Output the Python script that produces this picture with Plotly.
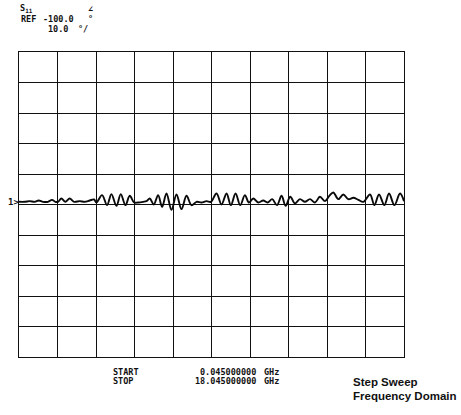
import plotly.graph_objects as go

# ---- data (S11 phase, step sweep) ----
freq_ghz = [
    0.045, 0.310, 0.544, 0.778, 0.965, 1.168, 1.402, 1.589, 1.745,
    1.870, 2.026, 2.213, 2.416, 2.619, 2.884, 3.118, 3.352, 3.555, 3.664,
    3.929, 4.163, 4.366, 4.600, 4.803, 5.021, 5.224, 5.427,
    5.614, 5.848, 6.004, 6.160, 6.347, 6.550, 6.737, 6.940,
    7.174, 7.408, 7.642, 7.876, 8.110, 8.344, 8.578, 8.812, 9.015,
    9.280, 9.514, 9.748, 9.951, 10.169, 10.388, 10.606, 10.793,
    10.996, 11.230, 11.464, 11.667, 11.885, 12.104, 12.322, 12.509,
    12.728, 12.946, 13.180, 13.414, 13.648, 13.882, 14.116, 14.350,
    14.553, 14.740, 14.974, 15.208, 15.442, 15.676, 15.910, 16.144,
    16.456, 16.659, 16.877, 17.127, 17.345, 17.595, 17.860, 18.045,
]
phase_deg = [
    -99.12, -99.12, -98.90, -99.12, -98.69, -99.12, -99.12, -98.47, -99.12,
    -99.12, -98.03, -99.12, -98.03, -99.12, -98.90, -99.12, -98.69, -98.36, -99.34,
    -96.93, -100.22, -96.61, -100.44, -96.61, -100.22, -97.15, -99.34,
    -99.34, -99.12, -98.90, -98.03, -100.00, -96.93, -100.77, -96.39,
    -101.75, -96.72, -101.53, -97.15, -100.22, -99.12, -99.34, -98.90, -99.12,
    -96.39, -100.00, -96.39, -100.22, -96.39, -100.22, -96.93, -99.34,
    -98.03, -99.34, -98.69, -99.34, -98.25, -100.22, -97.15, -100.44,
    -97.48, -99.67, -98.25, -99.12, -98.25, -99.34, -97.48, -98.90,
    -97.15, -96.06, -98.25, -96.72, -98.25, -97.81, -98.47, -99.12,
    -96.72, -100.22, -96.72, -100.22, -96.39, -100.22, -96.39, -98.90,
]

start_ghz = 0.045
stop_ghz = 18.045
ref_deg = -100.0
scale_deg = 10.0
n_div = 10

# ---- layout geometry (pixels) ----
W, H = 461, 415
ML, MR, MT, MB = 19, 57, 52, 58
PW, PH = W - ML - MR, H - MT - MB


def px(x):
    return (x - ML) / PW


def py(y):
    return 1 - (y - MT) / PH


fig = go.Figure()
fig.add_trace(go.Scatter(
    x=freq_ghz, y=phase_deg, mode="lines",
    line=dict(color="#0a0a0a", width=1.9, shape="spline", smoothing=1.0),
    hoverinfo="skip", showlegend=False,
))

ymin = ref_deg - scale_deg * n_div / 2
ymax = ref_deg + scale_deg * n_div / 2

fig.update_xaxes(
    range=[start_ghz, stop_ghz], tick0=start_ghz, dtick=(stop_ghz - start_ghz) / n_div,
    showgrid=True, gridcolor="#111111", gridwidth=1, showticklabels=False, ticks="",
    zeroline=False, showline=True, linecolor="#111111", linewidth=1.4, mirror=True,
)
fig.update_yaxes(
    range=[ymin, ymax], tick0=ymin, dtick=scale_deg,
    showgrid=True, gridcolor="#111111", gridwidth=1, showticklabels=False, ticks="",
    zeroline=False, showline=True, linecolor="#111111", linewidth=1.4, mirror=True,
)

mono = "DejaVu Sans Mono"
ann = []


def txt(text, x, y, size=10, family=mono, anchor="left", bold=False):
    ann.append(dict(
        text=f"<b>{text}</b>" if bold else text,
        x=px(x), y=py(y), xref="paper", yref="paper",
        xanchor=anchor, yanchor="middle", showarrow=False, borderpad=0,
        font=dict(family=family, size=size, color="#111111"),
    ))


# header
txt("S<sub>11</sub>", 19, 8.5, size=8.5, bold=True)
txt("∠", 87, 8.5, size=8.5, bold=True)
txt("REF", 19.5, 18.5, size=8.5, bold=True)
txt("-100.0", 41.5, 18.5, size=8.5, bold=True)
txt("°", 86.5, 18.5, size=8.5, bold=True)
txt("10.0", 46.5, 28.5, size=8.5, bold=True)
txt("°/", 77, 28.5, size=8.5, bold=True)

# reference marker
txt("1>", 19.5, 202, size=9, anchor="right", bold=True)

# footer
txt("START", 111.5, 371.5, size=8.5, bold=True)
txt("0.045000000", 257, 371.5, size=8.5, anchor="right", bold=True)
txt("GHz", 263, 371.5, size=8.5, bold=True)
txt("STOP", 111.5, 381.5, size=8.5, bold=True)
txt("18.045000000", 257, 381.5, size=8.5, anchor="right", bold=True)
txt("GHz", 263, 381.5, size=8.5, bold=True)

txt("Step Sweep", 352, 382, size=11.5, family="Liberation Sans", bold=True)
txt("Frequency Domain", 352, 396, size=11.5, family="Liberation Sans", bold=True)

fig.update_layout(
    width=W, height=H, autosize=False,
    margin=dict(l=ML, r=MR, t=MT, b=MB, pad=0),
    paper_bgcolor="white", plot_bgcolor="white",
    annotations=ann, showlegend=False,
)

fig.write_html(
    "out.html",
    config={"displayModeBar": False, "staticPlot": True},
    post_script="document.body.style.margin='0';document.body.style.overflow='hidden';",
)
